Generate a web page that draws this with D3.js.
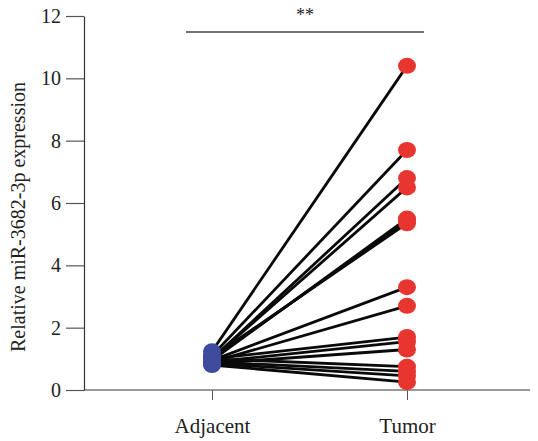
<!DOCTYPE html>
<html>
<head>
<meta charset="utf-8">
<script src="https://cdn.jsdelivr.net/npm/d3@7"></script>
<style>
  body { margin: 0; background: #fff; }
  svg text { font-family: "Liberation Serif", "Times New Roman", serif; fill: #222; }
</style>
</head>
<body>
<script>
var groups = ["Adjacent", "Tumor"];
var adjacentValues = [1.24, 1.1, 1.0, 1.0, 0.95, 1.0, 1.05, 0.95, 0.9, 1.0, 0.9, 0.85, 1.0, 0.9, 0.85, 0.8];
var tumorValues = [10.4, 7.7, 6.8, 6.5, 5.5, 5.42, 5.35, 3.3, 2.7, 1.7, 1.55, 1.3, 0.75, 0.6, 0.45, 0.25];
var yTicks = [0, 2, 4, 6, 8, 10, 12];
var yTitle = "Relative miR-3682-3p expression";
var sigLabel = "**";

var width = 538, height = 441;
var margin = {left: 84, right: 8, top: 16, bottom: 51};

var svg = d3.select("body").append("svg")
    .attr("width", width)
    .attr("height", height);

var x = d3.scalePoint()
    .domain(groups)
    .range([212, 407]);

var y = d3.scaleLinear()
    .domain([0, 12])
    .range([height - margin.bottom, margin.top]);

var pairs = adjacentValues.map(function(a, i) { return {a: a, t: tumorValues[i]}; });

// x axis
var xAxis = svg.append("g")
    .attr("transform", "translate(0," + y(0) + ")")
    .call(d3.axisBottom(x).tickSize(10).tickPadding(18));
xAxis.select(".domain").remove();
xAxis.selectAll("line").attr("stroke", "#555");
xAxis.selectAll("text").style("font-size", "21px");
xAxis.append("line")
    .attr("x1", margin.left).attr("x2", width - margin.right)
    .attr("y1", 0).attr("y2", 0)
    .attr("stroke", "#777").attr("stroke-width", 1.5);

// y axis
var yAxis = svg.append("g")
    .attr("transform", "translate(" + margin.left + ",0)")
    .call(d3.axisLeft(y).tickValues(yTicks).tickSize(18).tickPadding(5).tickSizeOuter(0));
yAxis.select(".domain").attr("stroke", "#333").attr("stroke-width", 1.2);
yAxis.selectAll("line").attr("stroke", "#555").attr("stroke-width", 1.2);
yAxis.selectAll("text").style("font-size", "20px");

svg.append("text")
    .attr("transform", "translate(25,217) rotate(-90)")
    .attr("text-anchor", "middle")
    .style("font-size", "20px")
    .text(yTitle);

// paired lines
svg.selectAll(".pair")
    .data(pairs)
  .enter().append("line")
    .attr("class", "pair")
    .attr("x1", x("Adjacent"))
    .attr("y1", function(d) { return y(d.a); })
    .attr("x2", x("Tumor"))
    .attr("y2", function(d) { return y(d.t); })
    .attr("stroke", "#0a0a0a")
    .attr("stroke-width", 2.8);

svg.selectAll(".adj")
    .data(adjacentValues)
  .enter().append("ellipse")
    .attr("class", "adj")
    .attr("cx", x("Adjacent"))
    .attr("cy", function(d) { return y(d); })
    .attr("rx", 9)
    .attr("ry", 8)
    .attr("fill", "#3f4b9c");

svg.selectAll(".tum")
    .data(tumorValues)
  .enter().append("ellipse")
    .attr("class", "tum")
    .attr("cx", x("Tumor"))
    .attr("cy", function(d) { return y(d); })
    .attr("rx", 9)
    .attr("ry", 8)
    .attr("fill", "#e8352f");

// significance bar
svg.append("line")
    .attr("x1", 186).attr("x2", 424)
    .attr("y1", 32).attr("y2", 32)
    .attr("stroke", "#444").attr("stroke-width", 1.3);
svg.append("text")
    .attr("x", (186 + 424) / 2)
    .attr("y", 21)
    .attr("text-anchor", "middle")
    .style("font-size", "18px")
    .text(sigLabel);
</script>
</body>
</html>
